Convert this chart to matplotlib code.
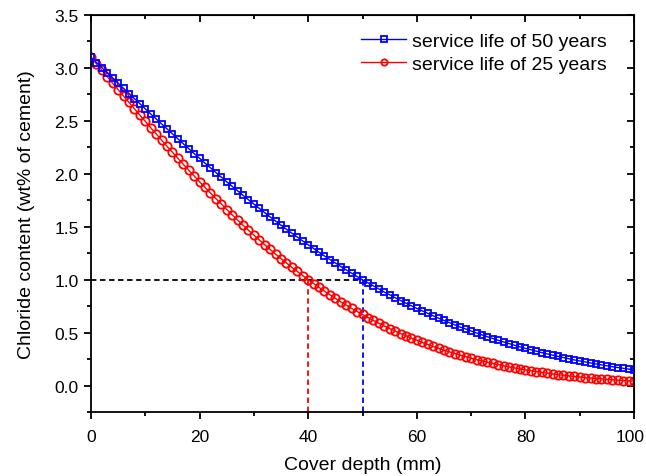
import matplotlib
matplotlib.use('Agg')
import matplotlib.pyplot as plt
import matplotlib.transforms as mtransforms
from matplotlib.ticker import MultipleLocator

plt.rcParams['font.family'] = ['Liberation Sans', 'DejaVu Sans']

# Cover depth (mm), one point per mm
depth = list(range(0, 101))

# Chloride content (wt% of cement)
life_50 = [3.100, 3.051, 3.002, 2.953, 2.904, 2.855, 2.807, 2.758, 2.710, 2.662,
           2.613, 2.565, 2.518, 2.471, 2.424, 2.377, 2.330, 2.283, 2.237, 2.191,
           2.146, 2.100, 2.056, 2.012, 1.968, 1.924, 1.881, 1.839, 1.796, 1.754,
           1.714, 1.673, 1.632, 1.592, 1.553, 1.514, 1.475, 1.438, 1.402, 1.365,
           1.329, 1.294, 1.258, 1.223, 1.190, 1.157, 1.124, 1.092, 1.061, 1.030,
           0.999, 0.970, 0.941, 0.912, 0.883, 0.857, 0.830, 0.803, 0.778, 0.753,
           0.729, 0.705, 0.682, 0.659, 0.636, 0.615, 0.594, 0.573, 0.552, 0.534,
           0.515, 0.496, 0.478, 0.461, 0.444, 0.427, 0.411, 0.396, 0.380, 0.365,
           0.351, 0.338, 0.324, 0.311, 0.299, 0.287, 0.275, 0.264, 0.253, 0.242,
           0.232, 0.223, 0.213, 0.204, 0.195, 0.186, 0.178, 0.170, 0.163, 0.155,
           0.148]

life_25 = [3.100, 3.039, 2.978, 2.916, 2.855, 2.795, 2.734, 2.674, 2.613, 2.554,
           2.495, 2.435, 2.377, 2.318, 2.260, 2.203, 2.146, 2.089, 2.034, 1.979,
           1.924, 1.871, 1.818, 1.765, 1.714, 1.662, 1.612, 1.563, 1.514, 1.466,
           1.420, 1.374, 1.329, 1.285, 1.241, 1.198, 1.157, 1.116, 1.077, 1.038,
           0.999, 0.963, 0.926, 0.890, 0.857, 0.823, 0.790, 0.759, 0.729, 0.699,
           0.671, 0.642, 0.615, 0.589, 0.563, 0.538, 0.515, 0.491, 0.470, 0.448,
           0.427, 0.407, 0.388, 0.369, 0.351, 0.334, 0.318, 0.302, 0.287, 0.272,
           0.259, 0.245, 0.232, 0.220, 0.208, 0.197, 0.186, 0.176, 0.166, 0.157,
           0.148, 0.140, 0.132, 0.124, 0.117, 0.110, 0.103, 0.097, 0.091, 0.086,
           0.081, 0.075, 0.071, 0.066, 0.062, 0.058, 0.054, 0.051, 0.047, 0.044,
           0.041]

x_ticks = [0, 20, 40, 60, 80, 100]
y_ticks = [0.0, 0.5, 1.0, 1.5, 2.0, 2.5, 3.0, 3.5]
y_tick_labels = ['0.0', '0.5', '1.0', '1.5', '2.0', '2.5', '3.0', '3.5']

threshold = 1.0
depth_25 = 40
depth_50 = 50

fig = plt.figure(figsize=(6.46, 4.77), dpi=100)
ax = fig.add_axes([0.1409, 0.1342, 0.8405, 0.8323])

ymin = -0.25
# guide lines
ax.plot([0, depth_50], [threshold, threshold], color='black', lw=1.3,
        ls=(0, (3, 2)), zorder=1)
ax.plot([depth_25, depth_25], [ymin, threshold], color='red', lw=1.3,
        ls=(0, (3, 2)), zorder=1)
ax.plot([depth_50, depth_50], [ymin, threshold], color='blue', lw=1.3,
        ls=(0, (3, 2)), zorder=1)

ax.plot(depth, life_50, color='blue', lw=1.0, marker='s', ms=5,
        mfc='none', mec='blue', mew=1.3, label='service life of 50 years', zorder=3)
ax.plot(depth, life_25, color='red', lw=1.0, marker='o', ms=6,
        mfc='none', mec='red', mew=1.3, label='service life of 25 years', zorder=2)

ax.set_xlim(0, 100)
ax.set_ylim(ymin, 3.5)
ax.set_xticks(x_ticks)
ax.xaxis.set_minor_locator(MultipleLocator(10))
ax.set_yticks(y_ticks)
ax.set_yticklabels(y_tick_labels)
ax.yaxis.set_minor_locator(MultipleLocator(0.25))

for s in ax.spines.values():
    s.set_linewidth(1.3)

ax.tick_params(which='both', direction='out', labelsize=12.5, width=1.3)
ax.tick_params(which='major', length=5)
ax.tick_params(axis='x', which='major', pad=7)
ax.tick_params(axis='y', which='major', pad=4)
ax.tick_params(which='minor', length=3)
# mirrored ticks pointing inward on top and right
axt = ax.secondary_xaxis('top')
axt.xaxis.set_major_locator(MultipleLocator(20))
axt.xaxis.set_minor_locator(MultipleLocator(10))
axt.tick_params(which='both', direction='in', labeltop=False, width=1.3)
axt.tick_params(which='major', length=5)
axt.tick_params(which='minor', length=3)
axr = ax.secondary_yaxis('right')
axr.yaxis.set_major_locator(MultipleLocator(0.5))
axr.yaxis.set_minor_locator(MultipleLocator(0.25))
axr.tick_params(which='both', direction='in', labelright=False, width=1.3)
axr.tick_params(which='major', length=5)
axr.tick_params(which='minor', length=3)

ax.set_xlabel('Cover depth (mm)', fontsize=14, labelpad=9)
ax.set_ylabel('Chloride content (wt% of cement)', fontsize=14, labelpad=14)

ax.legend(loc='upper right', frameon=False, fontsize=14, handlelength=2.3,
          markerscale=0.75, borderaxespad=0.5, labelspacing=0.25, handletextpad=0.3,
          bbox_to_anchor=(0.982, 1.0))

# nudge the last x label so it stays inside the figure
fig.canvas.draw()
last = ax.xaxis.get_major_ticks()[-1].label1
last.set_transform(last.get_transform() +
                   mtransforms.ScaledTranslation(-4 / 100, 0, fig.dpi_scale_trans))

fig.savefig('out.png', dpi=100)
